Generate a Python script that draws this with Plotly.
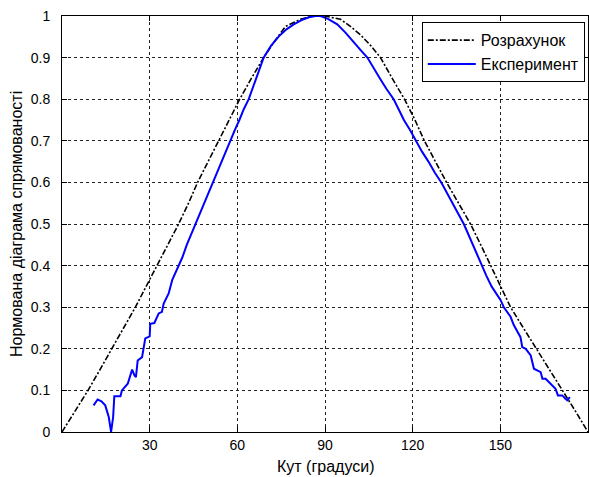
import plotly.graph_objects as go

# Calculated (theoretical) normalised directivity pattern
calc_angle = [0, 4.5, 8.9, 13.0, 17.1, 21.1, 25.1, 28.8, 32.5, 36.2, 39.9, 43.3,
              46.4, 50.0, 53.6, 57.2, 60.8, 64.8, 69.0, 72.8, 76.5, 81.6, 86.0,
              90.0, 95.3, 98.7, 102.1, 105.5, 109.0, 113.0, 117.2, 120.8, 124.0,
              127.8, 131.6, 135.7, 139.8, 143.3, 146.7, 150.1, 153.5, 157.9,
              162.4, 166.9, 171.3, 175.7, 180.0]
calc_value = [0.0, 0.05, 0.10, 0.15, 0.20, 0.25, 0.30, 0.35, 0.40, 0.45, 0.50, 0.55,
              0.60, 0.65, 0.70, 0.75, 0.80, 0.85, 0.90, 0.94, 0.975, 0.992, 1.0,
              1.0, 0.992, 0.975, 0.955, 0.93, 0.90, 0.85, 0.80, 0.75, 0.70,
              0.65, 0.60, 0.55, 0.50, 0.45, 0.40, 0.35, 0.30, 0.25,
              0.20, 0.15, 0.10, 0.05, 0.0]

# Measured normalised directivity pattern
meas_angle = [10.8, 12.2, 13.5, 14.8, 16.0, 16.8, 17.5, 17.9, 20.0, 20.5, 22.5, 22.8,
              24.0, 24.8, 25.3, 25.9, 27.4, 28.5, 30.0, 30.2, 31.6, 33.1, 34.2, 34.8,
              36.5, 37.7, 39.9, 41.2, 42.7, 44.0, 45.6, 47.0, 48.5, 50.2, 51.6, 53.0,
              54.6, 56.0, 57.6, 59.2, 60.7, 62.2, 63.9, 65.3, 66.5, 67.8, 69.0, 71.5,
              74.2, 76.8, 79.3, 82.0, 84.5, 86.7, 88.5, 91.0, 94.2, 97.0, 99.9, 102.2,
              104.5, 106.8, 108.8, 111.0, 113.5, 115.2, 117.0, 119.0, 121.0, 123.2,
              125.4, 127.6, 129.8, 131.8, 133.7, 135.6, 137.5, 139.0, 140.6, 142.0,
              143.6, 145.2, 147.0, 148.8, 150.1, 151.2, 153.5, 154.6, 156.9, 157.5,
              158.7, 160.4, 161.5, 163.8, 164.4, 165.5, 168.9, 169.7, 171.2, 172.3,
              172.9, 173.8]
meas_value = [0.064, 0.078, 0.074, 0.064, 0.036, 0.0, 0.036, 0.086, 0.086, 0.10, 0.116, 0.124,
              0.150, 0.136, 0.132, 0.172, 0.180, 0.225, 0.230, 0.260, 0.262, 0.285, 0.289, 0.309,
              0.333, 0.365, 0.400, 0.420, 0.450, 0.472, 0.500, 0.522, 0.550, 0.578, 0.600, 0.625,
              0.650, 0.673, 0.700, 0.727, 0.750, 0.776, 0.800, 0.828, 0.850, 0.876, 0.900, 0.928,
              0.951, 0.968, 0.980, 0.990, 0.997, 1.000, 1.000, 0.993, 0.980, 0.960, 0.935, 0.918,
              0.900, 0.875, 0.850, 0.825, 0.800, 0.776, 0.750, 0.727, 0.700, 0.674,
              0.650, 0.623, 0.600, 0.574, 0.550, 0.524, 0.500, 0.476, 0.450, 0.427,
              0.400, 0.376, 0.350, 0.330, 0.317, 0.300, 0.277, 0.257, 0.228, 0.204,
              0.200, 0.184, 0.152, 0.144, 0.128, 0.128, 0.104, 0.088, 0.088, 0.080,
              0.076, 0.084]

x_ticks = [30, 60, 90, 120, 150]
y_ticks = [0, 0.1, 0.2, 0.3, 0.4, 0.5, 0.6, 0.7, 0.8, 0.9, 1]
y_tick_text = ["0", "0.1", "0.2", "0.3", "0.4", "0.5", "0.6", "0.7", "0.8", "0.9", "1"]

FONT = "Liberation Sans, Arial, Helvetica, sans-serif"

fig = go.Figure()
fig.add_trace(go.Scatter(
    x=calc_angle, y=calc_value, mode="lines", name="Розрахунок",
    line=dict(color="black", width=1.6, dash="6px,2px,2px,2px"),
))
fig.add_trace(go.Scatter(
    x=meas_angle, y=meas_value, mode="lines", name="Експеримент",
    line=dict(color="#0000ff", width=2),
))

axis_common = dict(
    showline=True, linecolor="black", linewidth=1, mirror="ticks",
    ticks="inside", ticklen=5, tickcolor="black",
    showgrid=True, gridcolor="#222222", gridwidth=1, griddash="3px,3px",
    zeroline=False,
    tickfont=dict(family=FONT, size=14, color="black"),
)

fig.update_xaxes(range=[0, 180], tickvals=x_ticks, ticktext=[str(t) for t in x_ticks],
                 **axis_common)
fig.update_yaxes(range=[0, 1], tickvals=y_ticks, ticktext=y_tick_text,
                 ticklabelstandoff=8, **axis_common)

fig.update_layout(
    width=589, height=477,
    margin=dict(l=62, r=1, t=16, b=45),
    paper_bgcolor="white", plot_bgcolor="white",
    font=dict(family=FONT, size=14, color="black"),
    showlegend=True,
    legend=dict(
        x=0.684, y=0.985, xanchor="left", yanchor="top",
        bgcolor="white", bordercolor="black", borderwidth=1,
        font=dict(family=FONT, size=16, color="black"),
        itemwidth=48, tracegroupgap=0,
    ),
    annotations=[
        dict(text="Кут (градуси)", xref="paper", yref="paper", x=0.5, y=0,
             xanchor="center", yanchor="middle", yshift=-34, showarrow=False,
             font=dict(family=FONT, size=16, color="black")),
        dict(text="Нормована діаграма спрямованості", xref="paper", yref="paper",
             x=0, y=0.5, xanchor="center", yanchor="middle", xshift=-46,
             textangle=-90, showarrow=False,
             font=dict(family=FONT, size=16, color="black")),
    ],
)

fig.write_html("out.html")
